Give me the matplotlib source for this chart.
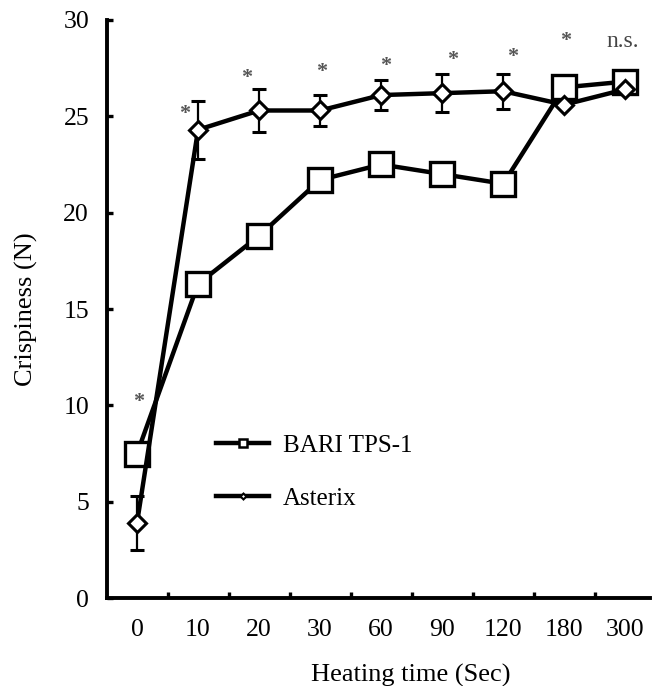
import numpy as np
import matplotlib.pyplot as plt
from matplotlib.lines import Line2D

# 数据
time_labels = ['0', '10', '20', '30', '60', '90', '120', '180', '300']
bari = [7.5, 16.3, 18.8, 21.7, 22.5, 22.0, 21.5, 26.5, 26.8]
asterix = [3.9, 24.3, 25.3, 25.3, 26.1, 26.2, 26.3, 25.6, 26.4]
asterix_err = [1.4, 1.5, 1.1, 0.8, 0.8, 1.0, 0.9, 0.0, 0.0]
sig_marks = ['*', '*', '*', '*', '*', '*', '*', '*', 'n.s.']
sig_y = [10.2, 25.1, 27.0, 27.3, 27.6, 27.9, 28.1, 28.9, 28.9]
sig_dx = [0.03, -0.22, -0.2, 0.03, 0.08, 0.17, 0.15, 0.02, -0.05]

plt.rcParams['font.family'] = ['Liberation Serif', 'DejaVu Serif']

fig = plt.figure(figsize=(6.53, 6.86), dpi=100)
ax = fig.add_axes([0.164, 0.128, 0.831, 0.843])

x = np.arange(len(time_labels))

ax.plot(x, bari, color='black', linewidth=3.2, marker='s', markersize=17,
        markerfacecolor='white', markeredgecolor='black', markeredgewidth=2.4, zorder=3)

ax.errorbar(x, asterix, yerr=asterix_err, color='black', linewidth=3.2,
            ecolor='black', elinewidth=1.6, capsize=5, capthick=1.6,
            marker='D', markersize=9, markerfacecolor='white',
            markeredgecolor='black', markeredgewidth=2.2, zorder=4)

for xi, dx, yi, s in zip(x, sig_dx, sig_y, sig_marks):
    if s == '*':
        ax.text(xi + dx, yi, s, ha='center', va='center', fontsize=16,
                color='#555555', fontweight='bold')
    else:
        ax.text(xi + dx, yi, s, ha='center', va='center', fontsize=17,
                color='#444444')

ax.set_xlim(-0.49, 8.4)
ax.set_ylim(0, 30)

ax.set_xticks(x)
ax.set_xticklabels(time_labels)
ax.set_xticks(x[:-1] + 0.5, minor=True)
ax.tick_params(axis='x', which='major', length=0, pad=15, labelsize=18.5)
ax.tick_params(axis='x', which='minor', direction='in', length=4, width=2.4)
ax.set_yticks(np.arange(0, 31, 5))
ax.tick_params(axis='y', direction='in', length=4, width=2.4, pad=13, labelsize=18.5)

for side in ['top', 'right']:
    ax.spines[side].set_visible(False)
for side in ['left', 'bottom']:
    ax.spines[side].set_linewidth(2.8)

ax.set_xlabel('Heating time (Sec)', fontsize=19)
ax.xaxis.set_label_coords(0.56, -0.113)
ax.set_ylabel('Crispiness (N)', fontsize=19)
ax.yaxis.set_label_coords(-0.128, 0.5)

handles = [
    Line2D([], [], color='black', linewidth=3.2, marker='s', markersize=6,
           markerfacecolor='white', markeredgewidth=1.8),
    Line2D([], [], color='black', linewidth=3.2, marker='D', markersize=3,
           markerfacecolor='white', markeredgewidth=1.5),
]
ax.legend(handles, ['BARI TPS-1', 'Asterix'], loc='center left',
          bbox_to_anchor=(0.16, 0.218), frameon=False, fontsize=18,
          handlelength=2.1, handletextpad=0.55, labelspacing=1.2)

plt.savefig('out.png', dpi=100)
